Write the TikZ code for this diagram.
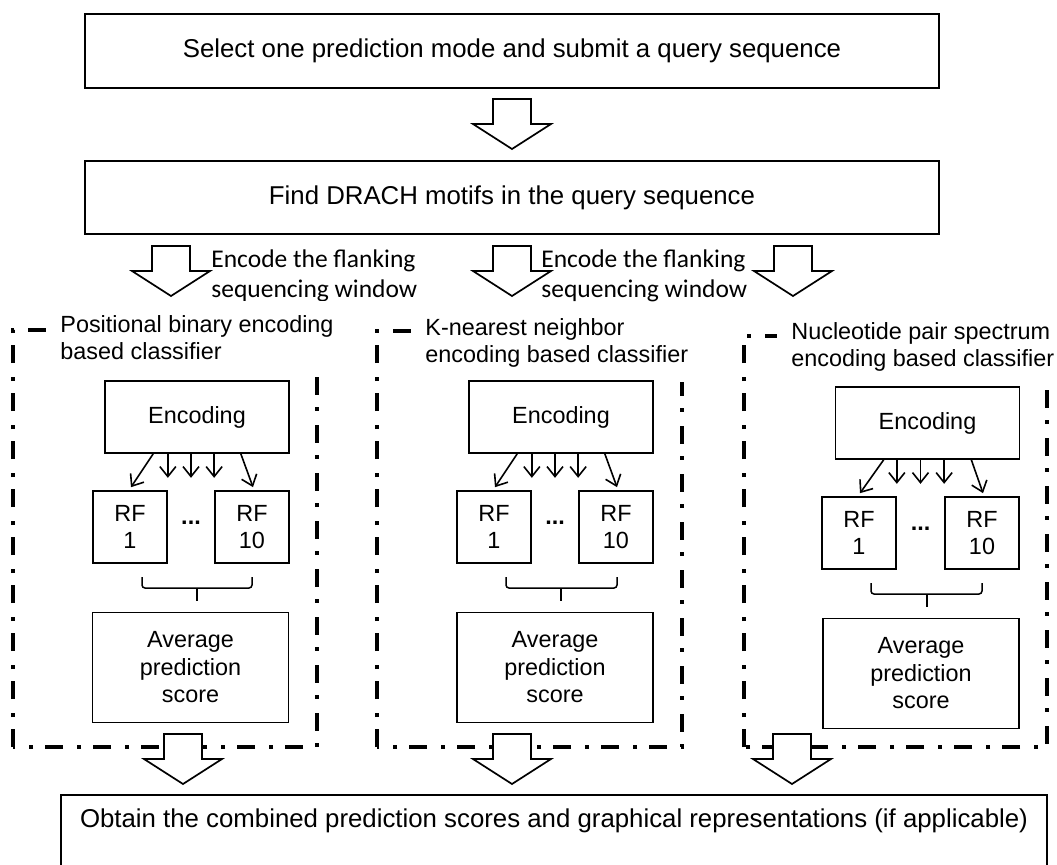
\documentclass[tikz,border=0pt]{standalone}
\usepackage{fontspec}
\setmainfont{Liberation Sans}
\newfontfamily\calfont{Carlito}
\usetikzlibrary{arrows.meta,calc}

\begin{document}
\begin{tikzpicture}[x=0.5pt,y=0.5pt,yscale=-1,xscale=1,
  every node/.style={font=\fontsize{11.7}{13.75}\selectfont},
  box/.style={draw,line width=0.85pt,align=center,inner sep=0pt},
  bigbox/.style={box,font=\fontsize{12.9}{15}\selectfont},
  encbox/.style={box,minimum width=92pt,minimum height=36pt},
  rfbox/.style={box,minimum width=37pt,minimum height=36pt},
  avgbox/.style={box,minimum width=98pt,minimum height=55pt},
  panel/.style={line width=2pt,dash pattern=on 9pt off 6pt on 2pt off 7pt},
  ptitle/.style={fill=white,align=left,anchor=north west,inner xsep=7pt,inner ysep=7pt},
  enctext/.style={font=\calfont\fontsize{12.75}{15}\selectfont,align=left,anchor=north west,inner sep=0pt},
  tip/.style={-{Straight Barb[length=5pt,width=8pt]},line width=0.8pt},
  brace/.style={line width=0.75pt,rounded corners=1.5pt},
  hollow/.pic={\draw[line width=0.85pt,fill=white] (-19,0) -- (19,0) -- (19,-25) -- (39,-25) -- (0,-50) -- (-39,-25) -- (-19,-25) -- cycle;}
]
\useasboundingbox (0,0) rectangle (1057,864);

%Query
\node[bigbox,minimum width=427pt,minimum height=37pt] (select) at (512,51) {Select one prediction mode and submit a query sequence};
\pic at (512,99) {hollow};

%Motifs
\node[bigbox,minimum width=427pt,minimum height=36.5pt] (find) at (512,197.5) {Find DRACH motifs in the query sequence};

%Encode arrows
\pic at (171,246) {hollow};
\pic at (512,246) {hollow};
\pic at (793,246) {hollow};
\node[enctext] (flankA) at (211,249) {Encode the flanking\\sequencing window};
\node[enctext] (flankB) at (541,249) {Encode the flanking\\sequencing window};


%Panels
\draw[panel] (13,747) -- (13,330) -- (317,330) -- (317,747) -- cycle;
\draw[panel] (377,747) -- (377,331) -- (682,331) -- (682,747) -- cycle;
\draw[panel] (744,747) -- (744,336) -- (1047,336) -- (1047,747) -- cycle;
\node[ptitle] (titleA) at (46,301) {Positional binary encoding\\based classifier};
\node[ptitle] (titleB) at (411,304) {K-nearest neighbor\\encoding based classifier};
\node[ptitle] (titleC) at (777,308) {Nucleotide pair spectrum\\encoding based classifier};


%Panel 1: positional binary
\node[encbox] (encA) at (197,417) {Encoding};
\node[rfbox] (rfA1) at (130,527) {RF\\1};
\node[rfbox] (rfA10) at (252,527) {RF\\10};
\node (dotsA) at (191,523) {\textbf{...}};
\node[avgbox] (avgA) at (190.5,667.5) {Average\\prediction\\score};
\draw[tip] ($(encA.south west)+(49,0)$) -- ($(rfA1.north)+(1,-3)$);
\draw[tip] ($(encA.south east)+(-49,0)$) -- ($(rfA10.north)+(1,-3)$);
\draw[tip] (rfA1.east |- encA.south) -- ++(0,24);
\draw[tip] (dotsA |- encA.south) -- ++(0,24);
\draw[tip] (rfA10.west |- encA.south) -- ++(0,24);
\draw[brace] (142,577) -- (142,588) -- (252,588) -- (252,577);
\draw[line width=0.75pt] (197,588) -- (197,601);

%Panel 2: K-nearest neighbor
\node[encbox] (encB) at (561,417) {Encoding};
\node[rfbox] (rfB1) at (494,527) {RF\\1};
\node[rfbox] (rfB10) at (616,527) {RF\\10};
\node (dotsB) at (555,523) {\textbf{...}};
\node[avgbox] (avgB) at (555,667.5) {Average\\prediction\\score};
\draw[tip] ($(encB.south west)+(49,0)$) -- ($(rfB1.north)+(1,-3)$);
\draw[tip] ($(encB.south east)+(-49,0)$) -- ($(rfB10.north)+(1,-3)$);
\draw[tip] (rfB1.east |- encB.south) -- ++(0,24);
\draw[tip] (dotsB |- encB.south) -- ++(0,24);
\draw[tip] (rfB10.west |- encB.south) -- ++(0,24);
\draw[brace] (506,577) -- (506,588) -- (617,588) -- (617,577);
\draw[line width=0.75pt] (561,588) -- (561,601);

%Panel 3: nucleotide pair spectrum
\node[encbox] (encC) at (927.5,423) {Encoding};
\node[rfbox] (rfC1) at (859,533) {RF\\1};
\node[rfbox] (rfC10) at (982,533) {RF\\10};
\node (dotsC) at (920.5,529) {\textbf{...}};
\node[avgbox] (avgC) at (921,673.5) {Average\\prediction\\score};
\draw[tip] ($(encC.south west)+(49,0)$) -- ($(rfC1.north)+(1,-3)$);
\draw[tip] ($(encC.south east)+(-49,0)$) -- ($(rfC10.north)+(1,-3)$);
\draw[tip] (rfC1.east |- encC.south) -- ++(0,24);
\draw[tip] (dotsC |- encC.south) -- ++(0,24);
\draw[tip] (rfC10.west |- encC.south) -- ++(0,24);
\draw[brace] (871,583) -- (871,594) -- (982,594) -- (982,583);
\draw[line width=0.75pt] (927,594) -- (927,607);


%Combine
\pic at (183,734) {hollow};
\pic at (512,734) {hollow};
\pic at (792,734) {hollow};
\node[bigbox,anchor=north,minimum width=493pt,text height=16.25pt,text depth=20pt] (final) at (554,794) {Obtain the combined prediction scores and graphical representations (if applicable)};

\end{tikzpicture}
\end{document}
